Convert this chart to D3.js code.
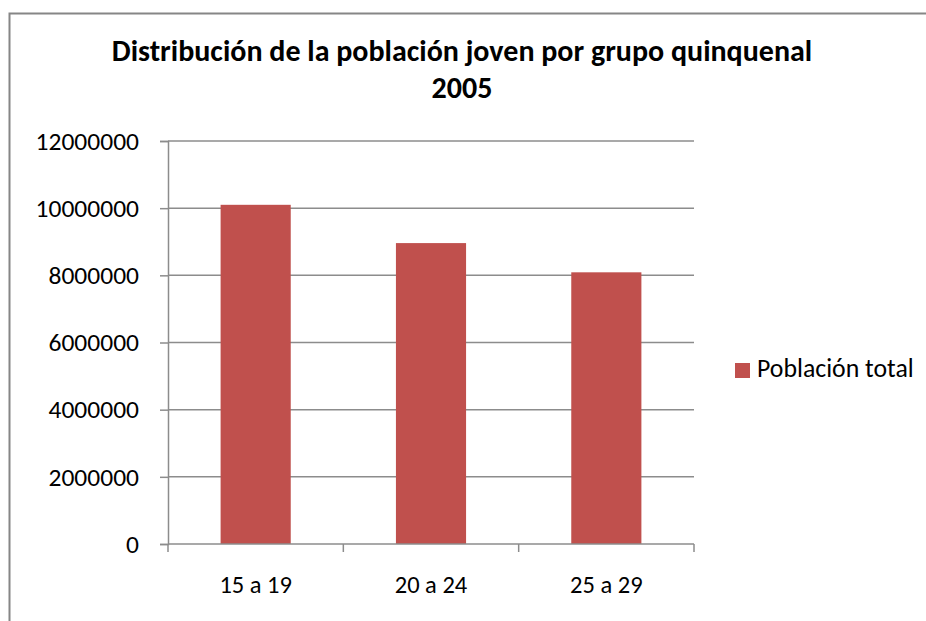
<!DOCTYPE html>
<html>
<head>
<meta charset="utf-8">
<title>Distribución de la población joven por grupo quinquenal 2005</title>
<script src="https://d3js.org/d3.v7.min.js"></script>
<style>
  body { margin: 0; background: #fff; }
  svg text { font-family: Carlito, "Open Sans", "Noto Sans", sans-serif; fill: #000; }
</style>
</head>
<body>
<div id="chart"></div>
<script>
// data
const categories = ["15 a 19", "20 a 24", "25 a 29"];
const values = [10100000, 8960000, 8090000];
const yTicks = [0, 2000000, 4000000, 6000000, 8000000, 10000000, 12000000];
const seriesName = "Población total";
const titleLines = ["Distribución de la población joven por grupo quinquenal", "2005"];

const width = 926, height = 621;
const plot = { left: 168, right: 694, top: 141, bottom: 544 };
const barColor = "#C0504D";
const gridColor = "#8c8c8c";

const svg = d3.select("#chart").append("svg")
    .attr("width", width)
    .attr("height", height);

// chart frame
svg.append("rect")
    .attr("x", 9.5).attr("y", 13.5)
    .attr("width", 940).attr("height", 640)
    .attr("fill", "#fff")
    .attr("stroke", "#868686")
    .attr("stroke-width", 2);

const x = d3.scaleBand()
    .domain(categories)
    .range([plot.left, plot.right])
    .paddingInner(0.6)
    .paddingOuter(0.3);

const y = d3.scaleLinear()
    .domain([0, 12000000])
    .range([plot.bottom, plot.top]);

// gridlines
svg.append("g")
    .selectAll("line")
    .data(yTicks.slice(1))
    .join("line")
    .attr("x1", plot.left).attr("x2", plot.right)
    .attr("y1", d => y(d)).attr("y2", d => y(d))
    .attr("stroke", gridColor)
    .attr("stroke-width", 1.5);

// bars
svg.append("g")
    .selectAll("rect")
    .data(values)
    .join("rect")
    .attr("x", (d, i) => x(categories[i]))
    .attr("y", d => y(d))
    .attr("width", x.bandwidth())
    .attr("height", d => y(0) - y(d))
    .attr("fill", barColor);

// y axis
const yAxis = d3.axisLeft(y)
    .tickValues(yTicks)
    .tickSize(8)
    .tickPadding(21)
    .tickFormat(d => String(d));

const gy = svg.append("g")
    .attr("transform", `translate(${plot.left},0)`)
    .call(yAxis);
gy.attr("font-family", null).attr("font-size", null);
gy.select(".domain").attr("stroke", gridColor).attr("stroke-width", 1.5);
gy.selectAll(".tick line").attr("stroke", gridColor).attr("stroke-width", 1.5);
gy.selectAll(".tick text")
    .attr("font-size", 25.5);

// x axis with ticks at category boundaries
const bounds = d3.range(categories.length + 1).map(i => plot.left + i * (plot.right - plot.left) / categories.length);

const gx = svg.append("g");
gx.append("line")
    .attr("x1", plot.left).attr("x2", plot.right)
    .attr("y1", plot.bottom).attr("y2", plot.bottom)
    .attr("stroke", gridColor).attr("stroke-width", 1.5);
gx.selectAll(".xt")
    .data(bounds)
    .join("line")
    .attr("class", "xt")
    .attr("x1", d => d).attr("x2", d => d)
    .attr("y1", plot.bottom).attr("y2", plot.bottom + 8)
    .attr("stroke", gridColor).attr("stroke-width", 1.5);
gx.selectAll("text")
    .data(categories)
    .join("text")
    .attr("x", d => x(d) + x.bandwidth() / 2)
    .attr("y", 593)
    .attr("text-anchor", "middle")
    .attr("font-size", 24.5)
    .text(d => d);

// title
svg.append("g")
    .selectAll("text")
    .data(titleLines)
    .join("text")
    .attr("x", 462)
    .attr("y", (d, i) => 61 + i * 37)
    .attr("text-anchor", "middle")
    .attr("font-size", 30)
    .attr("font-weight", "bold")
    .text(d => d);

// legend
const legend = svg.append("g").attr("transform", "translate(735,363)");
legend.append("rect")
    .attr("width", 15).attr("height", 15)
    .attr("fill", barColor);
legend.append("text")
    .attr("x", 22).attr("y", 14)
    .attr("font-size", 25.8)
    .text(seriesName);
</script>
</body>
</html>
